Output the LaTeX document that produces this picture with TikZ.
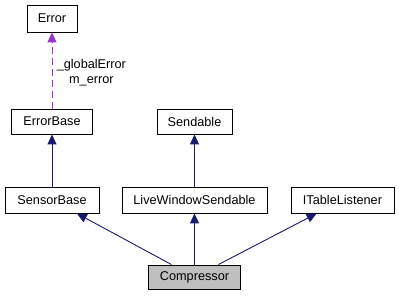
\documentclass[tikz,border=0pt]{standalone}
\usepackage{fontspec}
\setmainfont{Liberation Sans}
\usetikzlibrary{arrows.meta}
\definecolor{edgeblue}{HTML}{191970}
\definecolor{usepurple}{HTML}{9A32CD}
\definecolor{boxgray}{HTML}{BFBFBF}
\begin{document}
\begin{tikzpicture}[x=1pt, y=-1pt, font=\fontsize{12.7}{14}\selectfont,
		cls/.style={draw=black, line width=0.9pt, fill=white, inner sep=0pt, minimum height=25pt},
		inherit/.style={edgeblue, line width=0.9pt, -{Triangle[length=10pt,width=9pt]}},
		usage/.style={usepurple, line width=0.9pt, dash pattern=on 7pt off 4pt, -{Triangle[length=10pt,width=9pt]}}]
	\useasboundingbox (0,0) rectangle (399,296);
	% classes
	\node[cls, minimum width=50pt, minimum height=27pt] (err) at (52,18.5) {Error};
	\node[cls, minimum width=81pt] (errbase) at (52,121.5) {ErrorBase};
	\node[cls, minimum width=75pt] (send) at (194.5,121.5) {Sendable};
	\foreach \n/\x/\w/\t in {sensor/52/94/SensorBase, lws/194.5/145/LiveWindowSendable, itl/342.5/103/ITableListener}
		\node[cls, minimum width=\w pt, minimum height=26pt] (\n) at (\x,200) {\t};
	\node[cls, fill=boxgray, minimum width=92pt, minimum height=24pt] (comp) at (194.5,277) {Compressor};
	% inheritance
	\draw[inherit] (sensor) -- (errbase);
	\draw[inherit] (lws) -- (send);
	\draw[inherit] (comp) -- (sensor);
	\draw[inherit] (comp) -- (lws);
	\draw[inherit] (comp) -- (itl);
	% usage
	\draw[usage] (errbase) -- (err) node[midway, right=1pt, yshift=-2pt, black, align=center, font=\fontsize{12.7}{15}\selectfont] {\_globalError\\m\_error};
\end{tikzpicture}
\end{document}
